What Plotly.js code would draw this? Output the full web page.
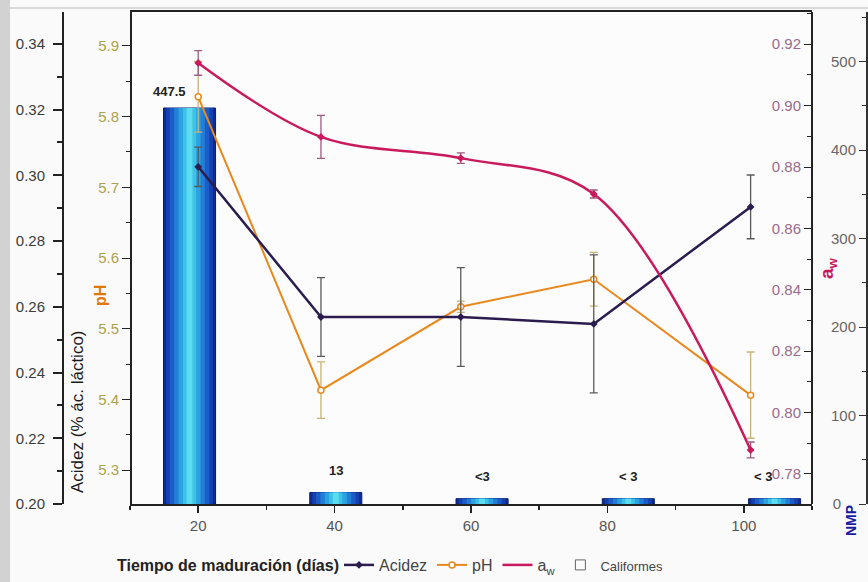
<!DOCTYPE html>
<html>
<head>
<meta charset="utf-8">
<script src="https://cdn.plot.ly/plotly-3.0.1.min.js"></script>
<style>html,body{margin:0;padding:0;background:#fafafa;}#chart{width:868px;height:582px;}</style>
</head>
<body>
<div id="chart"></div>
<script>
// ---- data ----
const dias = [20, 38, 58.5, 78, 101];
const acidez = [0.3026, 0.2569, 0.2569, 0.2548, 0.2904];
const acidezErr = [0.006, 0.012, 0.015, 0.021, 0.0097];
const ph = [5.828, 5.413, 5.531, 5.570, 5.406];
const phErr = [0.05, 0.04, 0.008, 0.038, 0.061];
const aw = [0.9139, 0.8898, 0.8829, 0.8712, 0.7878];
const awErr = [0.004, 0.007, 0.0017, 0.0013, 0.0026];
const coliCat = ['20', '40', '60', '80', '100'];
const coliformes = [447.5, 13, 6, 6, 6];
const coliLabels = ['447.5', '13', '<3', '< 3', '< 3'];
const nmpTickVals = [0, 100, 200, 300, 400, 500];
const nmpTickText = ['0\u2002\u2002', '100', '200', '300', '400', '500'];

const FONT = 'Arial, "Liberation Sans", sans-serif';

// gradient-like bars: layered overlaid bars (outer dark blue -> cyan core)
const barLayers = [
  {w: 0.356, c: '#0e2a94'},
  {w: 0.32, c: '#1540b0'},
  {w: 0.27, c: '#1c5cc8'},
  {w: 0.21, c: '#237ed6'},
  {w: 0.15, c: '#2ca2e0'},
  {w: 0.09, c: '#3cc2e8'},
  {w: 0.04, c: '#5cdcee'}
];
const traces = barLayers.map((L, k) => ({
  type: 'bar', x: coliCat, y: coliformes, xaxis: 'x', yaxis: 'y',
  width: L.w, marker: {color: L.c, line: {color: '#0a1f70', width: k === 0 ? 1 : 0}},
  showlegend: false, hoverinfo: 'skip'
}));

traces.push({
  type: 'scatter', mode: 'lines+markers', name: 'pH', legendrank: 2,
  x: dias, y: ph, xaxis: 'x2', yaxis: 'y2',
  line: {color: '#e8891e', width: 2},
  marker: {symbol: 'circle', size: 6, color: '#ffffff', line: {color: '#e8891e', width: 1.5}},
  error_y: {type: 'data', array: phErr, visible: true, color: '#c9b272', thickness: 1.3, width: 4}
});
traces.push({
  type: 'scatter', mode: 'lines+markers', name: 'Acidez', legendrank: 1,
  x: dias, y: acidez, xaxis: 'x2', yaxis: 'y3',
  line: {color: '#2a1d4e', width: 2.5},
  marker: {symbol: 'diamond', size: 6, color: '#2a1d4e'},
  error_y: {type: 'data', array: acidezErr, visible: true, color: '#5a5a5a', thickness: 1.3, width: 4}
});
traces.push({
  type: 'scatter', mode: 'lines', name: 'a<sub>w</sub>', legendrank: 3,
  x: dias, y: aw, xaxis: 'x2', yaxis: 'y4',
  line: {color: '#c81a5c', width: 2.5, shape: 'spline', smoothing: 1}
});
traces.push({
  type: 'scatter', mode: 'markers', showlegend: false,
  x: dias, y: aw, xaxis: 'x2', yaxis: 'y4',
  marker: {symbol: 'diamond', size: 6, color: '#c81a5c'},
  error_y: {type: 'data', array: awErr, visible: true, color: '#a05a80', thickness: 1.3, width: 4}
});
// legend entry for the coliform bars (open square in the reference legend)
traces.push({
  type: 'scatter', mode: 'markers', name: '<span style="font-size:13px">Califormes</span>', legendrank: 4,
  x: [null], y: [null], xaxis: 'x2', yaxis: 'y2',
  marker: {symbol: 'square-open', size: 10, color: '#666', line: {width: 1}}
});

const plotTop = 12, plotBot = 504, plotH = plotBot - plotTop, W = 868;
const py = y => (plotBot - y) / plotH;
const px = x => x / W;

const annotations = coliLabels.map((t, i) => ({
  xref: 'x', yref: 'y', x: i, y: coliformes[i], text: '<b>' + t + '</b>', showarrow: false,
  xanchor: 'center', yanchor: 'middle',
  xshift: i === 0 ? -20 : (i === 4 ? -12 : 0), yshift: i === 0 ? 17 : 22,
  font: {family: FONT, size: 13, color: '#222'}
}));
const title = (x, y, text, size, color, angle) => ({
  xref: 'paper', yref: 'paper', x: px(x), y: py(y), text: text, textangle: angle,
  xanchor: 'center', yanchor: 'middle', showarrow: false, font: {family: FONT, size: size, color: color}
});
annotations.push(
  title(77, 412, 'Acidez (% ác. láctico)', 17, '#1a1a1a', -90),
  title(101, 296, '<b>pH</b>', 16, '#e07810', -90),
  title(828, 268, '<b>a<sub>w</sub></b>', 19, '#c8185a', -90),
  title(851, 521, '<b>NMP</b>', 14, '#1a1aa0', -90),
  title(228, 565, '<b>Tiempo de maduración (días)</b>', 16, '#222', 0)
);

const layout = {
  width: 868, height: 582,
  margin: {l: 0, r: 0, t: plotTop, b: 582 - plotBot, pad: 0},
  paper_bgcolor: '#fafafa', plot_bgcolor: '#fcfcfc',
  font: {family: FONT},
  barmode: 'overlay',
  showlegend: true,
  legend: {orientation: 'h', x: px(339), y: py(565), xanchor: 'left', yanchor: 'middle',
           font: {family: FONT, size: 16, color: '#444'}, bgcolor: 'rgba(0,0,0,0)', itemwidth: 30},
  xaxis: {domain: [130 / W, 812 / W], type: 'category', range: [-0.407, 4.256], visible: false, fixedrange: true},
  xaxis2: {overlaying: 'x', anchor: 'y2', side: 'bottom', range: [10, 110], showline: true, mirror: true,
           linecolor: '#222', linewidth: 2, ticks: 'outside', ticklen: 7, tickwidth: 1.5, tickcolor: '#222',
           tick0: 0, dtick: 20, minor: {dtick: 10, ticks: 'outside', ticklen: 4, tickcolor: '#222'},
           tickfont: {size: 15, color: '#555'}, showgrid: false, zeroline: false},
  // NMP (coliformes) axis, far right: ticks and labels to the left of its line
  yaxis: {range: [0, 556], anchor: 'free', position: 866 / W, side: 'left', showline: true,
          linecolor: '#333', linewidth: 1.5, ticks: 'outside', ticklen: 7, tickcolor: '#333',
          tickmode: 'array', tickvals: nmpTickVals, ticktext: nmpTickText,
          minor: {dtick: 50, ticks: 'outside', ticklen: 4, tickcolor: '#333'},
          tickfont: {size: 15, color: '#666'}, showgrid: false, zeroline: false},
  yaxis2: {overlaying: 'y', anchor: 'free', position: 130 / W, side: 'left', range: [5.252, 5.948],
           showline: true, linecolor: '#222', linewidth: 1.5, ticks: 'outside', ticklen: 8, tickcolor: '#222',
           dtick: 0.1, tick0: 5.3, tickformat: '.1f', minor: {dtick: 0.05, ticks: 'outside', ticklen: 4, tickcolor: '#222'},
           tickfont: {size: 15, color: '#aaa24c'}, showgrid: false, zeroline: false},
  yaxis3: {overlaying: 'y', anchor: 'free', position: 63 / W, side: 'left', range: [0.20, 0.3497],
           showline: true, linecolor: '#222', linewidth: 2, ticks: 'outside', ticklen: 9, tickwidth: 2, tickcolor: '#222',
           ticklabelstandoff: 5,
           dtick: 0.02, tick0: 0.2, tickformat: '.2f', minor: {dtick: 0.01, ticks: 'outside', ticklen: 5, tickcolor: '#222'},
           tickfont: {size: 15, color: '#3c3c3c'}, showgrid: false, zeroline: false},
  // a_w axis on the plot's right edge: ticks and labels on its left
  yaxis4: {overlaying: 'y', anchor: 'free', position: 812 / W, side: 'left', range: [0.7702, 0.9305],
           showline: true, linecolor: '#222', linewidth: 2, ticks: 'outside', ticklen: 7, tickcolor: '#222',
           dtick: 0.02, tick0: 0.78, tickformat: '.2f',
           minor: {dtick: 0.01, ticks: 'outside', ticklen: 4, tickcolor: '#222'},
           tickfont: {size: 15, color: '#9a6a8e'}, showgrid: false, zeroline: false},
  annotations: annotations,
  shapes: [
    {type: 'rect', xref: 'paper', yref: 'paper', x0: 0, x1: px(10), y0: py(582), y1: py(0),
     fillcolor: '#d2d2d2', line: {width: 0}, layer: 'above'},
    {type: 'line', xref: 'paper', yref: 'paper', x0: px(10), x1: 1, y0: py(8), y1: py(8),
     line: {color: '#cfcfcf', width: 1.5}, layer: 'above'}
  ]
};

Plotly.newPlot('chart', traces, layout, {displayModeBar: false, staticPlot: true});
</script>
</body>
</html>
